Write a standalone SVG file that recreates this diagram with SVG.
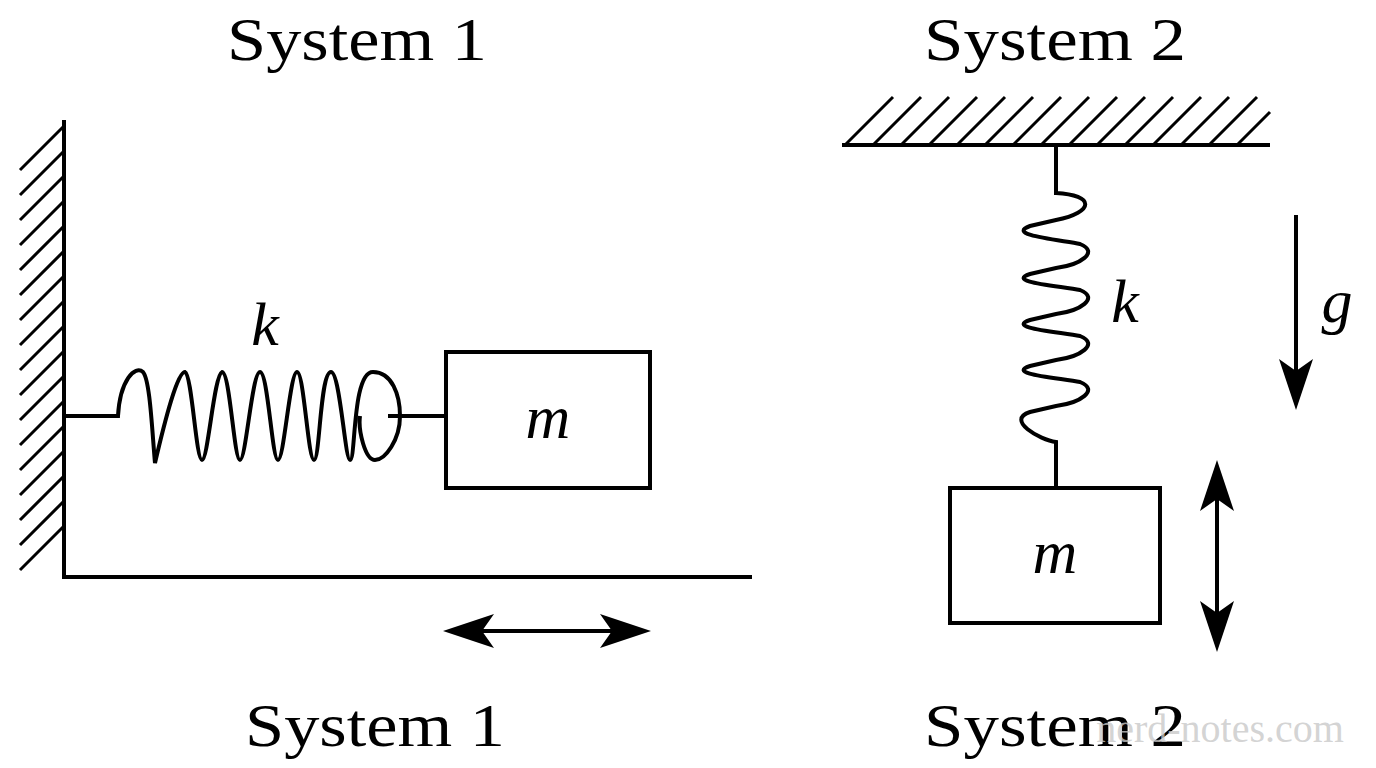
<svg xmlns="http://www.w3.org/2000/svg" width="1376" height="768" viewBox="0 0 1376 768">
<style>
.l{stroke:#000;stroke-width:4;fill:none;stroke-linecap:butt}
.h{stroke:#000;stroke-width:3}
.t{font-family:"Liberation Serif",serif;font-size:62px;text-anchor:middle}
.v{font-family:"Liberation Serif",serif;font-size:62px;font-style:italic;text-anchor:middle}
</style>
<rect width="1376" height="768" fill="#fff"/>
<g id="titles">
<text class="t" x="357" y="60" textLength="260" lengthAdjust="spacingAndGlyphs">System 1</text>
<text class="t" x="1055" y="60" textLength="262" lengthAdjust="spacingAndGlyphs">System 2</text>
<text class="t" x="375" y="746" textLength="260" lengthAdjust="spacingAndGlyphs">System 1</text>
<text class="t" x="1055" y="746" textLength="262" lengthAdjust="spacingAndGlyphs">System 2</text>
</g>
<g id="wall1">
<path class="l" d="M64,120 V577 H752"/>
<path class="h" d="M20,170 L64,126 M20,195 L64,151 M20,220 L64,176 M20,245 L64,201 M20,270 L64,226 M20,295 L64,251 M20,320 L64,276 M20,345 L64,301 M20,370 L64,326 M20,395 L64,351 M20,420 L64,376 M20,445 L64,401 M20,470 L64,426 M20,495 L64,451 M20,520 L64,476 M20,545 L64,501 M20,570 L64,526"/>
</g>
<g id="spring1">
<path class="l" d="M64,416 H118 C120,380 135,365 143,372 C150,380 152,430 155,463 C165,420 178,370 185,372 C192,375 196,460 202,460 C208,460 214,375 222,372 C230,372 234,460 240,460 C246,460 252,372 260,372 C268,372 272,460 278,460 C284,460 290,372 297,372 C304,372 308,460 314,460 C320,460 320,372 331,372 C340,372 345,460 350,460 C356,460 352,372 373,372 C392,372 400,395 400,416 C400,440 385,460 375,460 C365,460 358,430 360,416 M388,416 H446"/>
</g>
<g id="mass1">
<rect class="l" x="446" y="352" width="204" height="136"/>
<text class="v" x="548" y="438">m</text>
</g>
<text class="v" x="265" y="345">k</text>
<g id="ceiling2">
<path class="l" d="M842,145 H1270"/>
<path class="h" d="M845,145 L893,97 M873,145 L921,97 M901,145 L949,97 M929,145 L977,97 M957,145 L1005,97 M985,145 L1033,97 M1013,145 L1061,97 M1041,145 L1089,97 M1069,145 L1117,97 M1097,145 L1145,97 M1125,145 L1173,97 M1153,145 L1201,97 M1181,145 L1229,97 M1209,145 L1257,97 M1237,145 L1270,112"/>
</g>
<g id="spring2">
<path class="l" d="M1056,145 V193 C1095,195 1095,212 1056,220 L1030,226 C1005,235 1060,240 1080,244 C1100,252 1080,265 1056,268 L1030,274 C1005,282 1060,286 1080,290 C1100,298 1080,311 1056,314 L1030,320 C1005,328 1060,332 1080,336 C1100,344 1080,357 1056,360 L1030,366 C1005,374 1060,378 1080,382 C1100,390 1080,403 1056,406 L1030,412 C1005,420 1040,440 1056,442 V488"/>
</g>
<g id="mass2">
<rect class="l" x="950" y="488" width="210" height="135"/>
<text class="v" x="1055" y="573">m</text>
</g>
<text class="v" x="1125" y="322">k</text>
<text class="v" x="1337" y="322">g</text>
<g id="connectors">
<line class="l" x1="470" y1="631" x2="625" y2="631"/>
<path d="M443,631 L494,614 L482,631 L494,648Z M651,631 L600,614 L612,631 L600,648Z"/>
<line class="l" x1="1217" y1="485" x2="1217" y2="627"/>
<path d="M1217,460 L1200,511 L1217,499 L1234,511Z M1217,652 L1200,601 L1217,613 L1234,601Z"/>
<line class="l" x1="1296" y1="215" x2="1296" y2="385"/>
<path d="M1296,410 L1279,359 L1296,371 L1313,359Z"/>
</g>
<text x="1220" y="742" font-family="Liberation Serif,serif" font-size="40" fill="#c8c8c8" fill-opacity="0.8" text-anchor="middle">nerd-notes.com</text>
</svg>
